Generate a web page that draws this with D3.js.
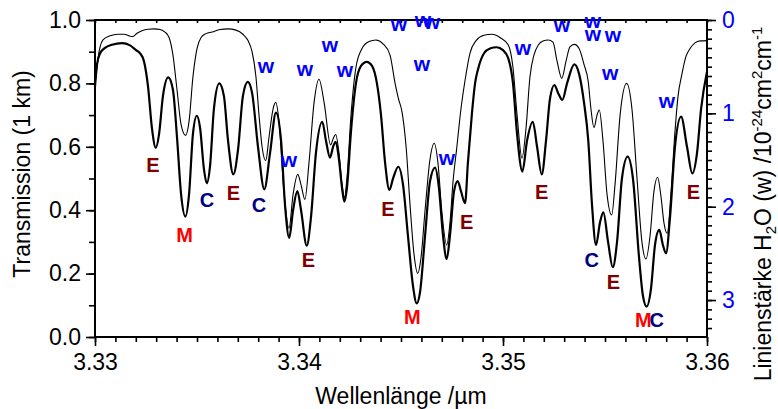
<!DOCTYPE html>
<html>
<head>
<meta charset="utf-8">
<script src="https://cdn.jsdelivr.net/npm/d3@7"></script>
<style>
  body { margin: 0; background: #fff; }
  text { font-family: "Liberation Sans", Arial, sans-serif; }
</style>
</head>
<body>
<div id="container"></div>
<script>
// ---- data ----
// thick curve (lower transmission)
let lamThick = [3.33000,3.33010,3.33025,3.33049,3.33083,3.33132,3.33172,3.33201,3.33221,3.33240,
  3.33260,3.33279,3.33298,3.33314,3.33333,3.33359,3.33382,3.33402,3.33422,3.33443,
  3.33461,3.33480,3.33499,3.33515,3.33534,3.33548,3.33564,3.33583,3.33609,3.33632,
  3.33652,3.33678,3.33701,3.33725,3.33749,3.33770,3.33799,3.33830,3.33858,3.33887,
  3.33912,3.33931,3.33952,3.33971,3.33992,3.34010,3.34038,3.34059,3.34083,3.34114,
  3.34132,3.34152,3.34167,3.34180,3.34196,3.34211,3.34222,3.34235,3.34255,3.34279,
  3.34304,3.34332,3.34358,3.34382,3.34402,3.34422,3.34443,3.34461,3.34487,3.34510,
  3.34534,3.34559,3.34577,3.34593,3.34618,3.34642,3.34667,3.34686,3.34706,3.34724,
  3.34740,3.34760,3.34778,3.34794,3.34814,3.34828,3.34847,3.34863,3.34879,3.34907,
  3.34936,3.34969,3.35000,3.35026,3.35049,3.35069,3.35095,3.35118,3.35146,3.35167,
  3.35190,3.35211,3.35230,3.35252,3.35270,3.35291,3.35314,3.35350,3.35373,3.35397,
  3.35418,3.35436,3.35456,3.35475,3.35492,3.35515,3.35538,3.35559,3.35583,3.35611,
  3.35637,3.35667,3.35686,3.35704,3.35725,3.35745,3.35766,3.35784,3.35799,3.35819,
  3.35843,3.35873,3.35902,3.35928,3.35951,3.35971,3.36000];
let transThick = [0.79,0.86,0.895,0.912,0.922,0.927,0.92,0.905,0.895,0.87,
  0.79,0.66,0.597,0.64,0.76,0.819,0.78,0.63,0.45,0.38,
  0.45,0.64,0.698,0.66,0.53,0.485,0.54,0.72,0.80,0.76,
  0.62,0.513,0.59,0.76,0.805,0.77,0.60,0.466,0.58,0.708,
  0.62,0.42,0.313,0.40,0.46,0.40,0.288,0.38,0.58,0.679,
  0.62,0.566,0.60,0.616,0.56,0.47,0.427,0.47,0.65,0.80,
  0.855,0.868,0.855,0.80,0.70,0.55,0.464,0.50,0.537,0.48,
  0.32,0.16,0.106,0.14,0.32,0.49,0.534,0.47,0.32,0.246,
  0.32,0.46,0.492,0.46,0.422,0.55,0.70,0.80,0.848,0.895,
  0.91,0.914,0.905,0.879,0.80,0.64,0.522,0.62,0.679,0.60,
  0.513,0.62,0.75,0.795,0.77,0.748,0.80,0.86,0.83,0.74,
  0.62,0.42,0.29,0.36,0.393,0.30,0.22,0.30,0.50,0.569,
  0.50,0.25,0.13,0.096,0.15,0.29,0.338,0.29,0.264,0.38,
  0.60,0.695,0.60,0.516,0.58,0.72,0.837];

// thin curve (higher transmission)
let lamThin = [3.33000,3.33015,3.33039,3.33074,3.33113,3.33142,3.33167,3.33186,3.33206,3.33230,
  3.33260,3.33289,3.33319,3.33343,3.33363,3.33382,3.33402,3.33422,3.33444,3.33461,
  3.33480,3.33500,3.33520,3.33544,3.33574,3.33613,3.33652,3.33691,3.33725,3.33750,
  3.33770,3.33789,3.33804,3.33819,3.33837,3.33853,3.33873,3.33886,3.33902,3.33926,
  3.33951,3.33971,3.33994,3.34010,3.34029,3.34049,3.34074,3.34098,3.34123,3.34155,
  3.34167,3.34180,3.34196,3.34211,3.34223,3.34235,3.34255,3.34279,3.34309,3.34343,
  3.34377,3.34412,3.34446,3.34471,3.34487,3.34505,3.34525,3.34544,3.34564,3.34582,
  3.34598,3.34618,3.34642,3.34663,3.34681,3.34701,3.34724,3.34740,3.34755,3.34773,
  3.34794,3.34814,3.34838,3.34868,3.34907,3.34945,3.34985,3.35026,3.35049,3.35069,
  3.35093,3.35113,3.35132,3.35152,3.35173,3.35196,3.35222,3.35245,3.35265,3.35288,
  3.35309,3.35328,3.35350,3.35373,3.35397,3.35418,3.35431,3.35446,3.35461,3.35472,
  3.35490,3.35510,3.35533,3.35549,3.35574,3.35606,3.35632,3.35657,3.35681,3.35701,
  3.35721,3.35740,3.35758,3.35775,3.35789,3.35805,3.35824,3.35843,3.35858,3.35876,
  3.35897,3.35917,3.35941,3.35966,3.36000];
let transThin = [0.79,0.88,0.937,0.950,0.955,0.955,0.950,0.948,0.958,0.966,
  0.971,0.972,0.970,0.962,0.945,0.89,0.78,0.67,0.636,0.68,
  0.82,0.91,0.945,0.957,0.962,0.97,0.972,0.968,0.955,0.935,
  0.90,0.82,0.70,0.60,0.556,0.63,0.72,0.74,0.68,0.46,
  0.343,0.45,0.513,0.48,0.434,0.55,0.74,0.813,0.74,0.606,
  0.625,0.639,0.58,0.48,0.44,0.50,0.70,0.85,0.91,0.932,
  0.937,0.925,0.89,0.80,0.753,0.71,0.60,0.42,0.26,0.201,
  0.25,0.40,0.56,0.611,0.55,0.39,0.29,0.36,0.49,0.595,
  0.72,0.81,0.895,0.935,0.952,0.955,0.945,0.921,0.85,0.70,
  0.564,0.66,0.82,0.89,0.921,0.934,0.937,0.93,0.87,0.816,
  0.87,0.915,0.923,0.91,0.86,0.805,0.72,0.66,0.70,0.716,
  0.62,0.45,0.385,0.48,0.70,0.80,0.72,0.50,0.30,0.246,
  0.32,0.46,0.504,0.44,0.36,0.327,0.46,0.648,0.76,0.826,
  0.885,0.91,0.928,0.934,0.935];

// band labels (E, M, C) placed in transmission units
let peakText = ["E","M","C","E","C","E","E","M","E","E","C","E","M","C","E"];
let peakLam  = [3.33284,3.33439,3.33549,3.33678,3.33804,3.34046,3.34436,3.34555,3.34822,3.35190,3.35435,3.35541,3.35688,3.35753,3.35933];
let peakT    = [0.543,0.322,0.432,0.454,0.416,0.243,0.404,0.063,0.364,0.458,0.243,0.174,0.054,0.054,0.458];

// H2O line strengths (w), right axis
let wLam      = [3.33838,3.33951,3.34029,3.34152,3.34225,3.34490,3.34603,3.34608,3.34652,3.34725,3.35098,3.35289,3.35441,3.35441,3.35525,3.35539,3.35804];
let wStrength = [0.514,1.521,0.546,0.289,0.557,0.064,0.493,0.021,0.043,1.50,0.321,0.075,0.032,0.171,0.589,0.182,0.879];

let xTicks = [3.33, 3.34, 3.35, 3.36];
let yTicks = [0, 0.2, 0.4, 0.6, 0.8, 1.0];
let rTicks = [0, 1, 2, 3];

// ---- layout ----
let w = 778, h = 409;
let x0 = 95, x1 = 707, yTop = 20, yBot = 337;
let fs = 23;

let svg = d3.select("#container").append("svg")
  .attr("width", w).attr("height", h);

let x = d3.scaleLinear().domain([3.33, 3.36]).range([x0, x1]);
let y = d3.scaleLinear().domain([0, 1]).range([yBot, yTop]);
let yR = d3.scaleLinear().domain([0, 3.396]).range([yTop, yBot]);

let colors = { E: "#800000", M: "#ff0000", C: "#000080" };

// curves
let line = d3.line().x(d => x(d[0])).y(d => y(d[1])).curve(d3.curveMonotoneX);
let thin = lamThin.map((l, i) => [l, transThin[i]]);
let thick = lamThick.map((l, i) => [l, transThick[i]]);

svg.append("path").datum(thin).attr("d", line)
  .attr("fill", "none").attr("stroke", "#000").attr("stroke-width", 1.1);
svg.append("path").datum(thick).attr("d", line)
  .attr("fill", "none").attr("stroke", "#000").attr("stroke-width", 2.2);

// axes
function styleAxis(g) {
  g.select(".domain").remove();
  g.selectAll("line").attr("stroke", "#000").attr("stroke-width", 1.6);
  g.selectAll("text").attr("font-size", fs).attr("fill", "#000");
}

let xMinor = d3.range(0, 31).map(i => 3.33 + i * 0.001);
svg.append("g").attr("transform", `translate(0,${yBot})`)
  .call(d3.axisBottom(x).tickValues(xMinor).tickSize(5).tickFormat(""))
  .call(styleAxis);
svg.append("g").attr("transform", `translate(0,${yBot})`)
  .call(d3.axisBottom(x).tickValues(xTicks).tickSize(9).tickPadding(8).tickFormat(d3.format(".2f")))
  .call(styleAxis);
// top mirrored ticks
svg.append("g").attr("transform", `translate(0,${yTop})`)
  .call(d3.axisBottom(x).tickValues(xMinor).tickSize(3).tickFormat(""))
  .call(styleAxis);

let yMinor = d3.range(0, 11).map(i => i * 0.1);
svg.append("g").attr("transform", `translate(${x0},0)`)
  .call(d3.axisLeft(y).tickValues(yMinor).tickSize(6).tickFormat(""))
  .call(styleAxis);
svg.append("g").attr("transform", `translate(${x0},0)`)
  .call(d3.axisLeft(y).tickValues(yTicks).tickSize(9).tickPadding(5).tickFormat(d3.format(".1f")))
  .call(styleAxis);

let rMinor = d3.range(0, 34).map(i => i * 0.1);
svg.append("g").attr("transform", `translate(${x1},0)`)
  .call(d3.axisRight(yR).tickValues(rMinor).tickSize(5).tickFormat(""))
  .call(styleAxis);
svg.append("g").attr("transform", `translate(${x1},0)`)
  .call(d3.axisRight(yR).tickValues(rTicks).tickSize(9).tickPadding(6).tickFormat(d3.format("d")))
  .call(styleAxis)
  .selectAll("text").attr("fill", "#0000ff");

// frame
svg.append("rect").attr("x", x0).attr("y", yTop).attr("width", x1 - x0).attr("height", yBot - yTop)
  .attr("fill", "none").attr("stroke", "#000").attr("stroke-width", 2);

// band labels
svg.append("g").selectAll("text").data(peakText).enter().append("text")
  .attr("x", (d, i) => x(peakLam[i]))
  .attr("y", (d, i) => y(peakT[i]))
  .attr("dy", "0.36em")
  .attr("text-anchor", "middle")
  .attr("font-size", 20).attr("font-weight", "bold")
  .attr("fill", d => colors[d])
  .text(d => d);

svg.append("g").selectAll("text").data(wLam).enter().append("text")
  .attr("x", d => x(d))
  .attr("y", (d, i) => yR(wStrength[i]))
  .attr("dy", "0.26em")
  .attr("text-anchor", "middle")
  .attr("font-size", 21).attr("font-weight", "bold")
  .attr("fill", "#0000ff")
  .text("w");

// axis titles
svg.append("text").attr("x", 401).attr("y", 404).attr("text-anchor", "middle")
  .attr("font-size", fs).text("Wellenlänge /µm");

svg.append("text").attr("transform", "translate(30,174) rotate(-90)")
  .attr("text-anchor", "middle").attr("font-size", fs).text("Transmission (1 km)");

let rt = svg.append("text").attr("transform", "translate(771,204) rotate(-90)")
  .attr("text-anchor", "middle").attr("font-size", fs);
rt.append("tspan").text("Linienstärke H");
rt.append("tspan").attr("font-size", 15).attr("dy", 5).text("2");
rt.append("tspan").attr("dy", -5).text("O (w) /10");
rt.append("tspan").attr("font-size", 15).attr("dy", -9).text("-24");
rt.append("tspan").attr("dy", 9).text("cm");
rt.append("tspan").attr("font-size", 15).attr("dy", -9).text("2");
rt.append("tspan").attr("dy", 9).text("cm");
rt.append("tspan").attr("font-size", 15).attr("dy", -9).text("-1");
</script>
</body>
</html>
